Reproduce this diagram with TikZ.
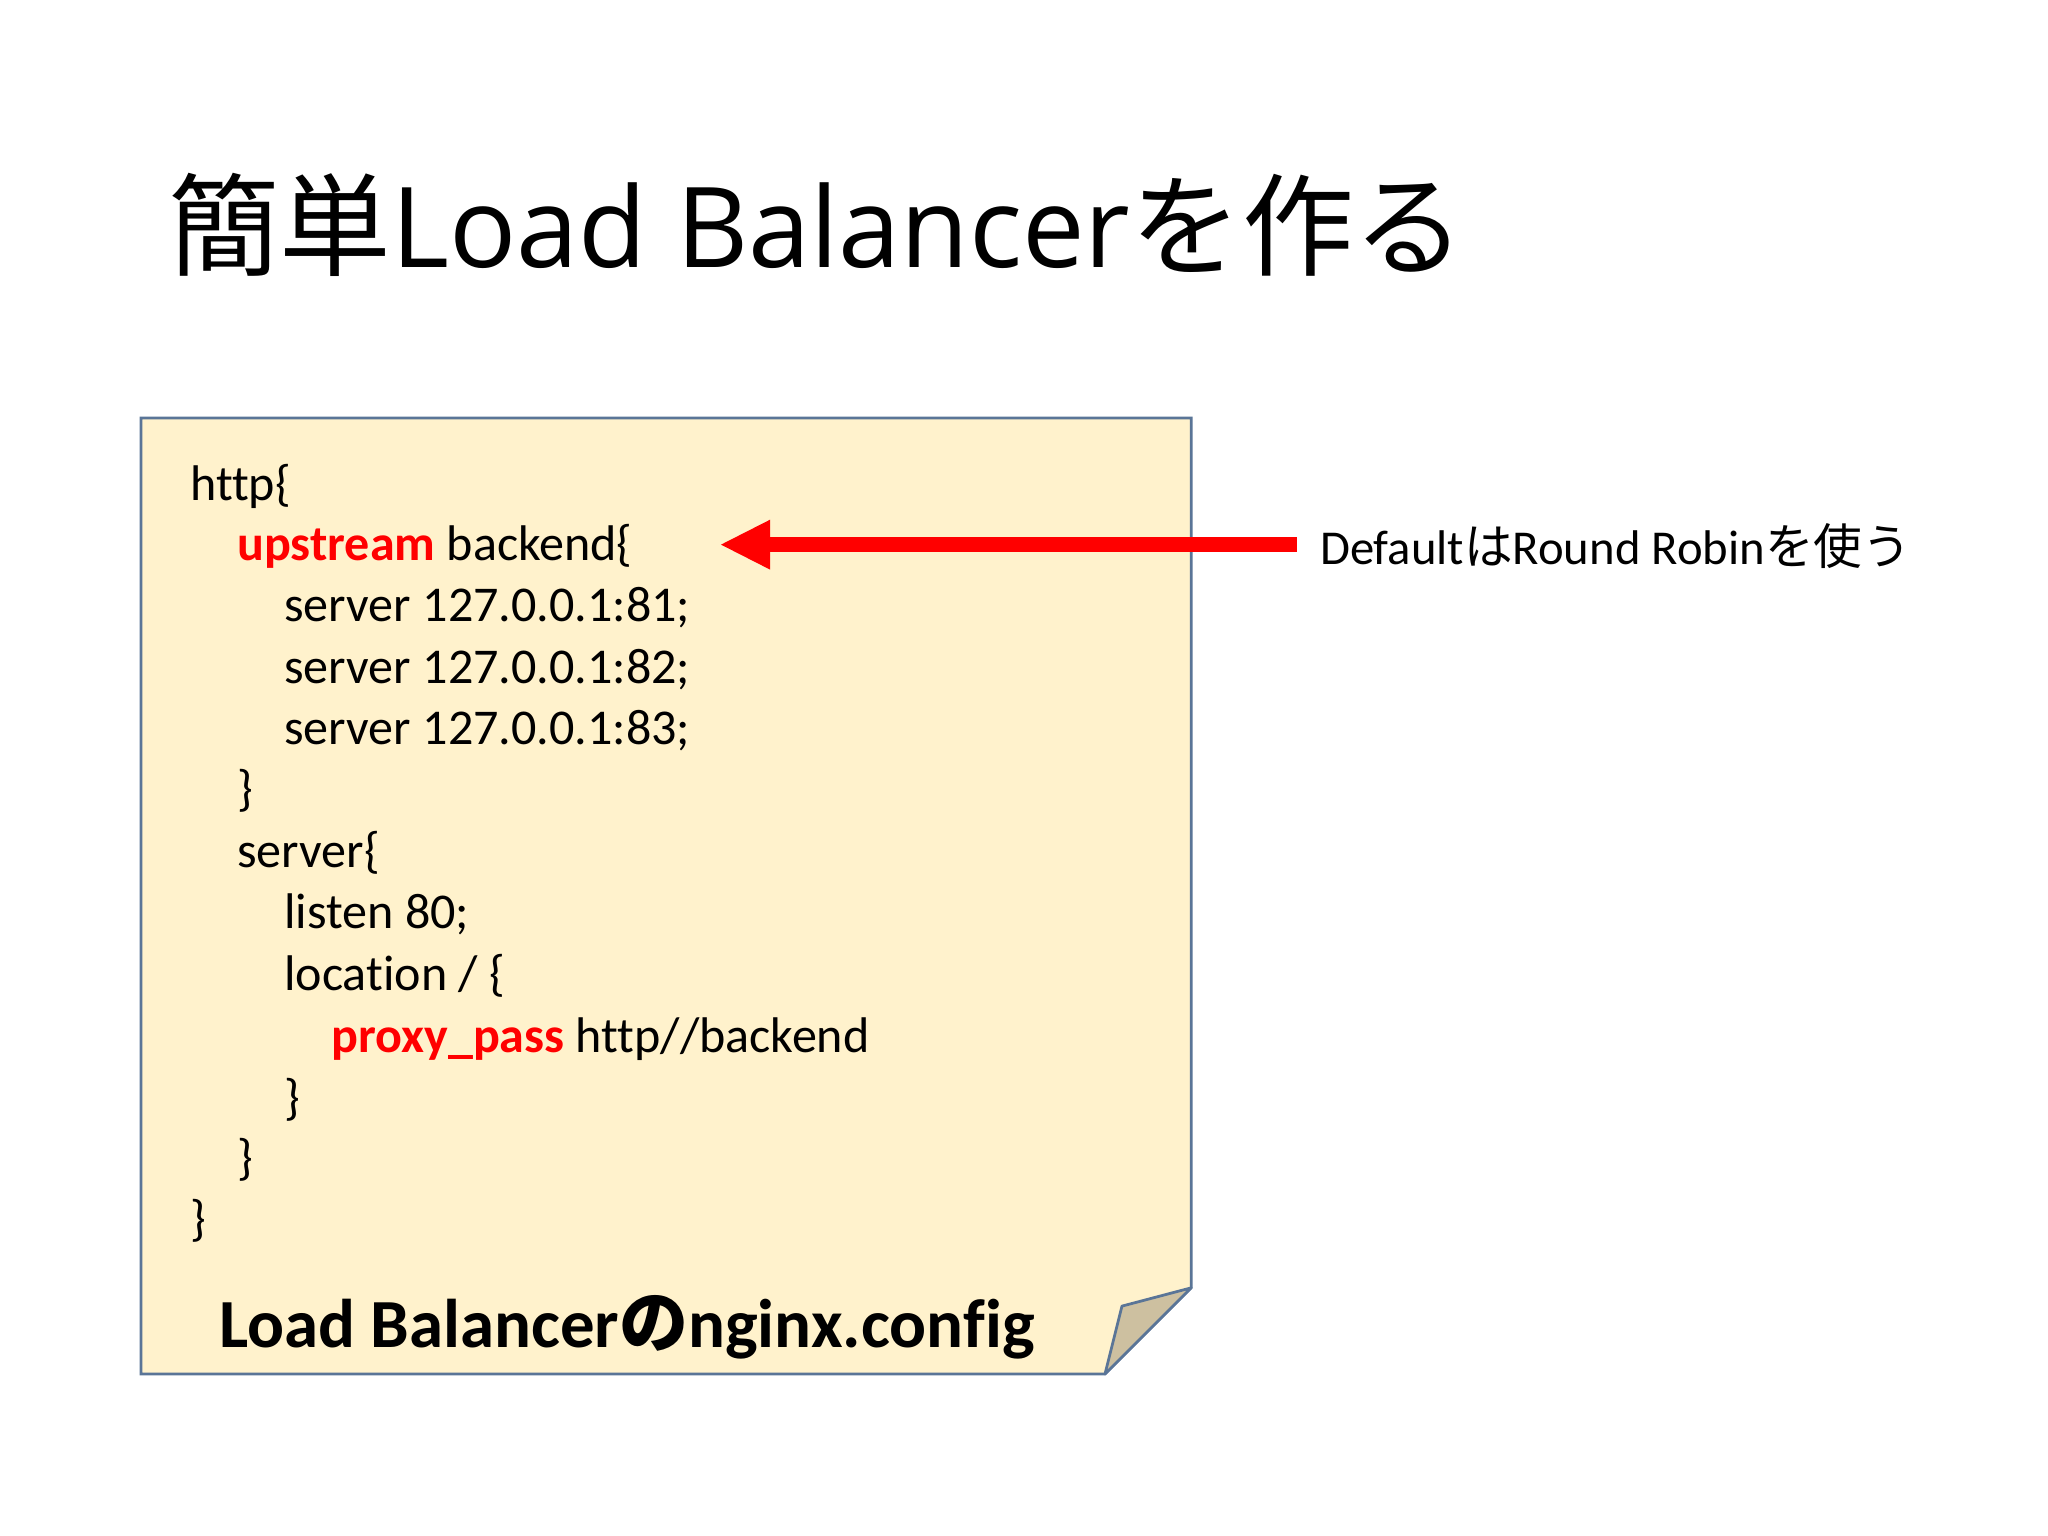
\documentclass[tikz,border=0pt]{standalone}
\usepackage{fontspec}
\usetikzlibrary{arrows.meta}
\setmainfont[Ligatures={NoCommon}]{Carlito}
\newfontfamily\jp{Noto Sans CJK JP}
\newfontfamily\ttl{Open Sans}
\definecolor{note}{HTML}{FFF2CC}
\definecolor{noteedge}{HTML}{5A7597}
\definecolor{fold}{HTML}{CDC0A0}
\definecolor{kw}{HTML}{FF0000}
\begin{document}
\begin{tikzpicture}[x=0.01cm,y=-0.01cm,
  code/.style={anchor=base west,inner sep=0,font=\fontsize{10.9}{12}\selectfont}]
\useasboundingbox (0,0) rectangle (1568,1176);
\fill[white] (0,0) rectangle (1568,1176);
\node[anchor=base west,inner sep=0,font=\fontsize{24.3}{30}\selectfont] (title) at (128,205)
  {{\jp 簡単}{\ttl Load Balancer}{\jp を作る}};
\draw[noteedge,fill=note,line width=0.6pt] (108,320) -- (912,320) -- (912,986) -- (846,1052) -- (108,1052) -- cycle;
\draw[noteedge,fill=fold,line width=0.6pt,line join=round] (846,1052) -- (859,1000) -- (912,986) -- cycle;
\node[code] (l1) at (145,383) {http\{};
\node[code] (l2) at (181,429) {\textbf{\color{kw}upstream} backend\{};
\node[code] (l3) at (217,476) {server 127.0.0.1:81;};
\node[code] (l4) at (217,523) {server 127.0.0.1:82;};
\node[code] (l5) at (217,570) {server 127.0.0.1:83;};
\node[code] (l6) at (181,617) {\}};
\node[code] (l7) at (181,664) {server\{};
\node[code] (l8) at (217,711) {listen 80;};
\node[code] (l9) at (217,758) {location / \{};
\node[code] (l10) at (253,806) {\textbf{\color{kw}proxy\_pass} http//backend};
\node[code] (l11) at (217,853) {\}};
\node[code] (l12) at (181,899) {\}};
\node[code] (l13) at (145,946) {\}};
\node[anchor=base west,inner sep=0,font=\fontsize{15}{18}\selectfont\bfseries] (cap) at (167,1032)
  {Load Balancer{\jp の}nginx.config};
\node[anchor=west,inner sep=0,font=\fontsize{10.6}{12}\selectfont] (lab) at (1010,418)
  {Default{\jp は}Round Robin{\jp を使う}};
\coordinate (tip) at (551,417);
\draw[kw,line width=3.4pt,-{Triangle[length=11pt,width=10pt]}] (993,417) -- (tip);
\end{tikzpicture}
\end{document}
